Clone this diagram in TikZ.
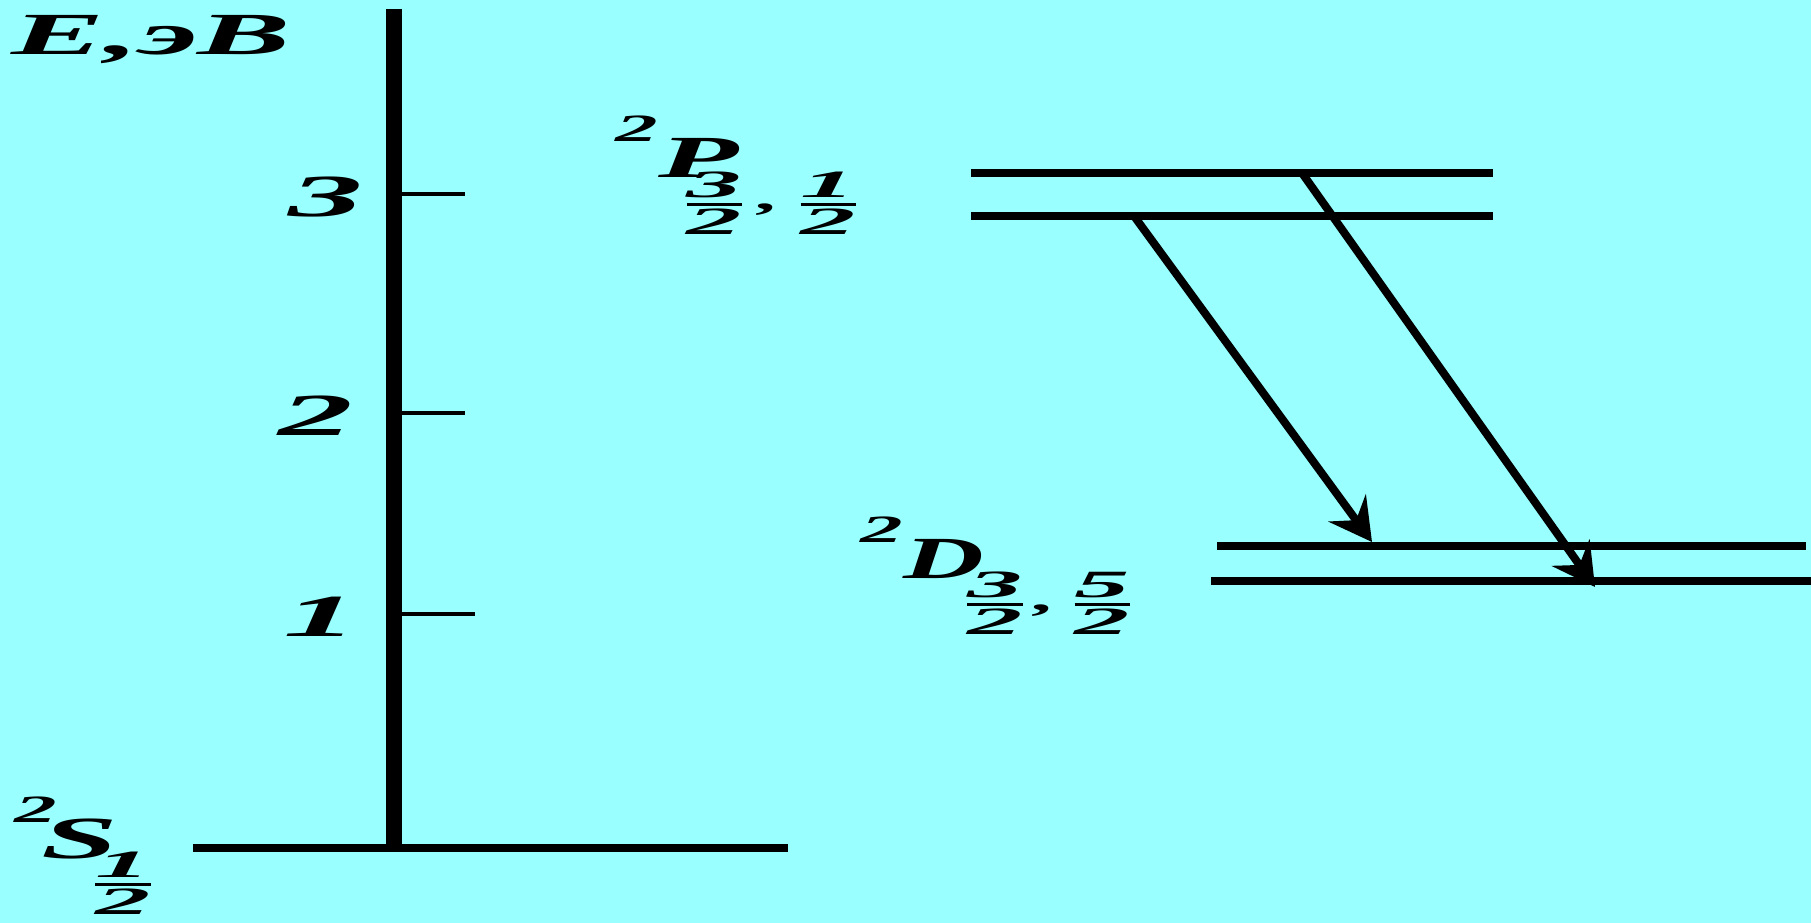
\documentclass[tikz,border=0pt]{standalone}
\usepackage{fontspec}
\setmainfont{Liberation Serif}
\usepackage{amsmath}
\usepackage{graphicx}
\usetikzlibrary{arrows.meta}

\definecolor{bgcyan}{RGB}{153,255,255}

% pieces of the term symbols
\newcommand{\lvlsup}{\raisebox{3.6mm}{\fontsize{11}{11}\selectfont 2}}
\newcommand{\lvlfrac}[2]{\raisebox{-3.9mm}{\fontsize{15.7}{16}\selectfont\scalebox{1.3}[1]{$\genfrac{}{}{0.7pt}{1}{\text{#1}}{\text{#2}}$}}}
\newcommand{\lvlcomma}{\raisebox{-3.2mm}{\fontsize{11}{11}\selectfont,}}
\newcommand{\lvlname}[3]{\scalebox{2.2}[1]{\lvlsup#1\kern#2\relax#3}}

\begin{document}
\begin{tikzpicture}[x=0.1mm, y=-0.1mm,
            lvlline/.style={line width=0.8mm},
            axisline/.style={line width=1.6mm},
            tickline/.style={line width=0.4mm},
            jump/.style={line width=0.8mm, -{Stealth[length=4.2mm, width=4.6mm, inset=1.5mm]}},
            lbl/.style={inner sep=0, font=\fontsize{17}{19}\selectfont\bfseries\itshape},
        ]
            \fill[bgcyan] (0,0) rectangle (1811,923);
            \useasboundingbox (0,0) rectangle (1811,923);

            % Energy axis
            \draw[axisline] (394,9) -- (394,848);
            \node[lbl, anchor=base west] (eunit) at (11,55) {\scalebox{2.34}[1]{E,эB}};
            \foreach \ev/\ty/\tx/\lx in {3/194/465/364, 2/413/465/354, 1/614/475/359} {
                \draw[tickline] (394,\ty) -- (\tx,\ty);
                \node[lbl, anchor=east] (ev\ev) at (\lx,\ty+3) {\scalebox{2.5}[1]{\ev}};
            }

            % Ground level
            \draw[lvlline] (193,848) -- (788,848);
            \node[lbl, anchor=base west] (slab) at (14,858) {\lvlname{\kern-0.7mm\scalebox{1.05}[1]{S}}{-1.6mm}{\lvlfrac{1}{2}}};

            % P levels
            \draw[lvlline] (971,173) -- (1493,173);
            \draw[lvlline] (971,216) -- (1493,216);
            \node[lbl, anchor=base west] (plab) at (615,178) {\lvlname{P}{-2.9mm}{\lvlfrac{3}{2}\kern0.2mm\lvlcomma\kern0.4mm\lvlfrac{1}{2}}};

            % D levels
            \draw[lvlline] (1217,546) -- (1806,546);
            \draw[lvlline] (1211,581) -- (1811,581);
            \node[lbl, anchor=base west] (dlab) at (860,578) {\lvlname{\scalebox{0.85}[1]{D}}{-1.3mm}{\lvlfrac{3}{2}\lvlcomma\kern0.3mm\lvlfrac{5}{2}}};

            % Transitions
            \coordinate (pa) at (1134,216);
            \coordinate (pb) at (1302,173);
            \coordinate (da) at (1372,542);
            \coordinate (db) at (1595,587);
            \draw[jump] (pa) -- (da);
            \draw[jump] (pb) -- (db);
        \end{tikzpicture}
\end{document}
